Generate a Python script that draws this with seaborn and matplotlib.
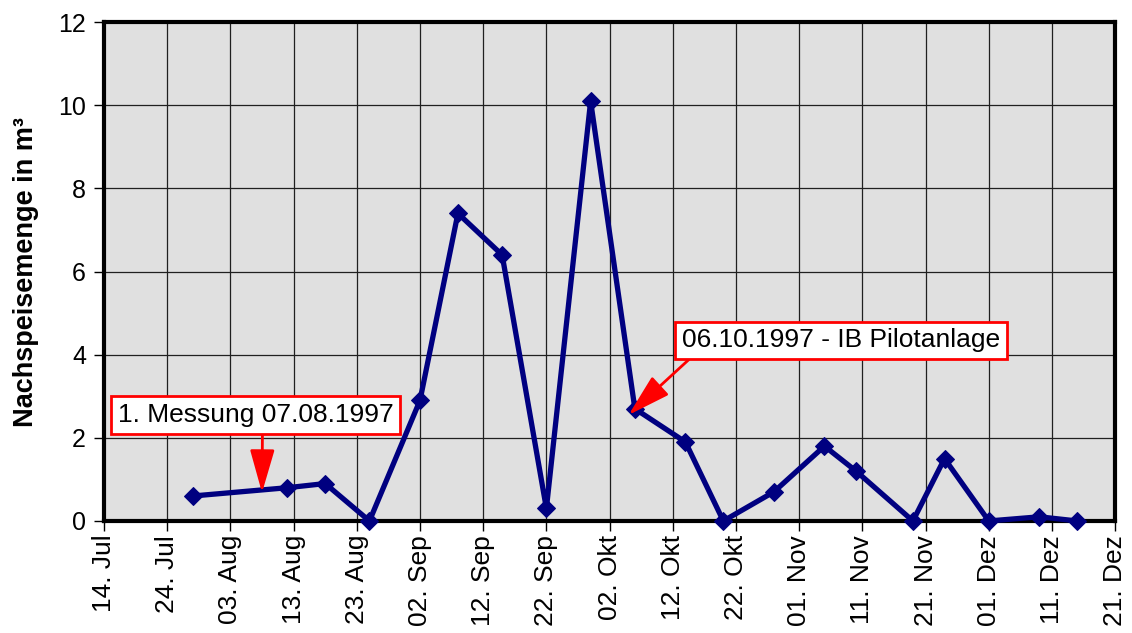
import matplotlib
matplotlib.use("Agg")
import matplotlib.pyplot as plt
import seaborn as sns
import pandas as pd

# Measurement dates (1997) and refill volumes
dates = ["1997-07-28", "1997-08-12", "1997-08-18", "1997-08-25", "1997-09-02",
         "1997-09-08", "1997-09-15", "1997-09-22", "1997-09-29", "1997-10-06",
         "1997-10-14", "1997-10-20", "1997-10-28", "1997-11-05", "1997-11-10",
         "1997-11-19", "1997-11-24", "1997-12-01", "1997-12-09", "1997-12-15"]
volumes = [0.6, 0.8, 0.9, 0.0, 2.9, 7.4, 6.4, 0.3, 10.1, 2.7,
           1.9, 0.0, 0.7, 1.8, 1.2, 0.0, 1.5, 0.0, 0.1, 0.0]

# Axis ticks (every 10 days) with German month names
tick_dates = ["1997-07-14", "1997-07-24", "1997-08-03", "1997-08-13", "1997-08-23",
              "1997-09-02", "1997-09-12", "1997-09-22", "1997-10-02", "1997-10-12",
              "1997-10-22", "1997-11-01", "1997-11-11", "1997-11-21", "1997-12-01",
              "1997-12-11", "1997-12-21"]
tick_labels = ["14. Jul", "24. Jul", "03. Aug", "13. Aug", "23. Aug", "02. Sep",
               "12. Sep", "22. Sep", "02. Okt", "12. Okt", "22. Okt", "01. Nov",
               "11. Nov", "21. Nov", "01. Dez", "11. Dez", "21. Dez"]
y_ticks = [0, 2, 4, 6, 8, 10, 12]

# Annotated events: label text and the point the arrow marks
note_texts = ["1. Messung 07.08.1997", "06.10.1997 - IB Pilotanlage"]
note_dates = ["1997-08-08", "1997-10-05"]
note_values = [0.68, 2.55]

sns.set_style("white")
plt.rcParams["font.family"] = ["Liberation Sans", "DejaVu Sans"]
plt.rcParams.update({"text.color": "black", "axes.labelcolor": "black",
                     "xtick.color": "black", "ytick.color": "black"})

df = pd.DataFrame({"Datum": pd.to_datetime(dates), "Menge": volumes})

fig = plt.figure(figsize=(11.32, 6.33), dpi=100)
ax = fig.add_axes([0.0919, 0.177, 0.8932, 0.788])
ax.set_facecolor("#e0e0e0")

sns.lineplot(data=df, x="Datum", y="Menge", ax=ax, color="#000080",
             linewidth=3.8, marker="D", markersize=9, markeredgecolor="#000080",
             zorder=5, clip_on=False)

td = pd.to_datetime(tick_dates)
ax.set_xlim(td[0], td[-1])
ax.set_ylim(0, 12)
ax.set_xticks(td)
ax.set_xticklabels(tick_labels, rotation=90, fontsize=19, color="black")
ax.set_yticks(y_ticks)
ax.set_yticklabels([str(v) for v in y_ticks], fontsize=18, color="black")

ax.grid(True, color="#202020", linewidth=0.9)
ax.set_axisbelow(True)
for side in ["left", "bottom", "top", "right"]:
    ax.spines[side].set_visible(True)
    ax.spines[side].set_color("black")
    ax.spines[side].set_linewidth(3)
ax.tick_params(axis="y", which="both", direction="out", length=7,
               width=1, color="black", pad=6, left=True)
ax.tick_params(axis="x", which="both", direction="out", length=7,
               width=1, color="black", pad=3, bottom=True)

ax.set_xlabel("")
ax.set_ylabel("Nachspeisemenge in m³", fontsize=19.5, fontweight="bold", color="black")
ax.yaxis.set_label_coords(-0.064, 0.5)

bbox_style = dict(boxstyle="square,pad=0.25", facecolor="white",
                  edgecolor="red", linewidth=2)
arrow_style = "-|>,head_length=1.4,head_width=0.4"

# Label boxes placed in data coordinates, arrows leave from the box bottom
box_pos = [(pd.Timestamp("1997-07-16 05:00"), 2.55),
           (pd.Timestamp("1997-10-13 11:00"), 4.35)]
arrow_rel = [(0.524, 0.0), (0.047, 0.0)]
for text, d, v, pos, rel in zip(note_texts, note_dates, note_values, box_pos, arrow_rel):
    ax.annotate(text, xy=(pd.Timestamp(d), v), xytext=pos, color="black",
                fontsize=19, bbox=bbox_style, zorder=10, va="center", ha="left",
                arrowprops=dict(arrowstyle=arrow_style, color="red", lw=2,
                                shrinkA=0, shrinkB=0, relpos=rel))

fig.savefig("out.png", dpi=100)
